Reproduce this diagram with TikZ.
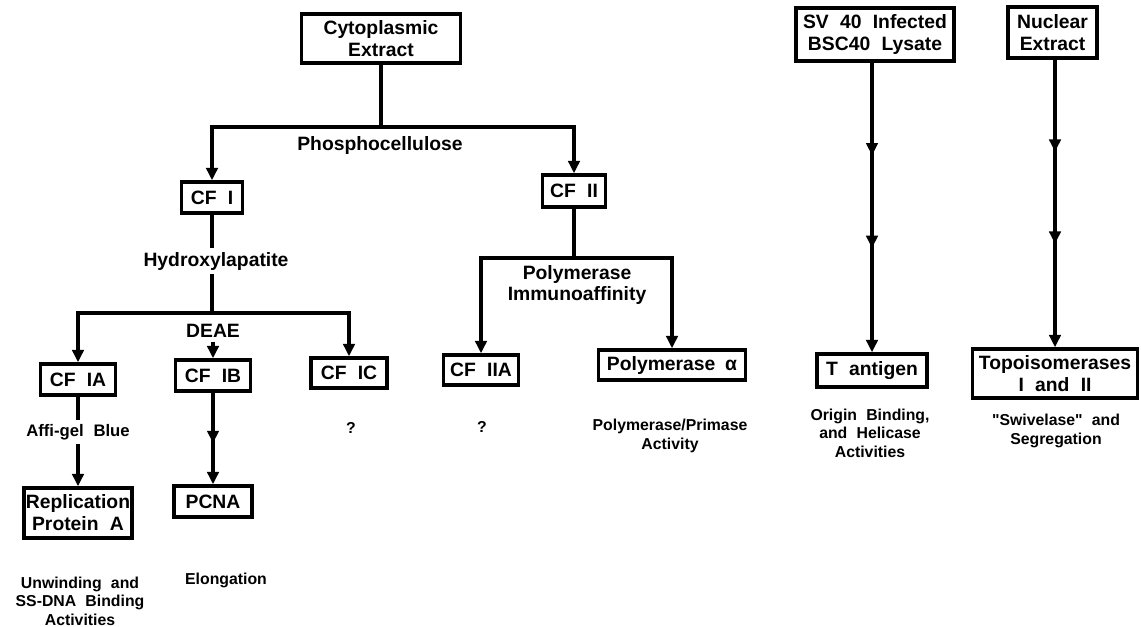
\documentclass[tikz,border=0pt]{standalone}
\usepackage{fontspec}
\setmainfont{Liberation Sans}[WordSpace=2.1]
\usepackage{tikz}
\usetikzlibrary{arrows.meta, positioning, decorations.markings}

\begin{document}
\begin{tikzpicture}[
  x=0.02cm, y=-0.02cm,
  stage/.style={rectangle, draw, line width=2pt, inner sep=1pt, align=center,
                font=\bfseries\fontsize{11}{12.5}\selectfont},
  method/.style={align=center, inner sep=2pt, font=\bfseries\fontsize{11}{12}\selectfont},
  result/.style={align=center, inner sep=2pt, font=\bfseries\fontsize{9}{10.5}\selectfont},
  flow/.style={line width=2pt, -{Triangle[length=7pt,width=6.5pt]}},
  link/.style={line width=2pt},
  midarrows/.style 2 args={postaction={decorate}, decoration={markings,
      mark=at position #1 with {\arrow{Triangle[length=7pt,width=6.5pt]}},
      mark=at position #2 with {\arrow{Triangle[length=7pt,width=6.5pt]}}}},
  midarrow/.style={postaction={decorate}, decoration={markings,
      mark=at position #1 with {\arrow{Triangle[length=7pt,width=6.5pt]}}}}
]
  \useasboundingbox (0,0) rectangle (1141,626);

  % cytoplasmic branch
  \node[stage, minimum width=3.18cm, minimum height=0.98cm] (cyto) at (381,38.5) {Cytoplasmic\\Extract};
  \coordinate (phj) at (381,127);
  \node[method] (phos) at (380,145) {Phosphocellulose};

  \node[stage, minimum width=1.22cm, minimum height=0.62cm] (cfi)  at (212,197.5) {CF I};
  \node[stage, minimum width=1.26cm, minimum height=0.64cm] (cfii) at (574,191) {CF II};

  \draw[link] (cyto) -- (phj);
  \draw[flow] (phj) -| (cfi);
  \draw[flow] (phj) -| (cfii);

  % CF I
  \node[method] (hydro) at (216,261) {Hydroxylapatite};
  \coordinate (hyj) at (212,313);
  \node[method] (deae) at (213,331) {DEAE};

  \node[stage, minimum width=1.5cm, minimum height=0.62cm]  (cfia) at (78,379.5)  {CF IA};
  \node[stage, minimum width=1.5cm, minimum height=0.62cm]  (cfib) at (213,375.5) {CF IB};
  \node[stage, minimum width=1.52cm, minimum height=0.6cm]  (cfic) at (349,373)   {CF IC};

  \draw[link] (cfi) -- (cfi |- hydro.north);
  \draw[link] (cfi |- hydro.south) -- (hyj);
  \draw[flow] (hyj) -| (cfia);
  \draw[flow] (hyj) -| (cfic);
  \draw[flow] (deae) -- (cfib);

  \node[method, font=\bfseries\fontsize{9.5}{11}\selectfont] (affi) at (78,432) {Affi-gel Blue};
  \node[stage, minimum width=2.14cm, minimum height=1.0cm] (rpa) at (78,513) {Replication\\Protein A};
  \draw[link] (cfia) -- (affi);
  \draw[flow] (affi) -- (rpa);

  \node[stage, minimum width=1.56cm, minimum height=0.62cm] (pcna) at (213,501.5) {PCNA};
  \draw[flow, midarrow=0.55] (cfib) -- (pcna);

  \node[result] (q1) at (351,428) {?};
  \node[result] (rpaact) at (80,601) {Unwinding and\\SS-DNA Binding\\Activities};
  \node[result] (elong) at (226,580) {Elongation};

  % CF II
  \coordinate (pij) at (574,258);
  \node[method] (poly) at (577,285) {Polymerase\\Immunoaffinity};
  \node[stage, minimum width=1.5cm, minimum height=0.6cm]  (cfiia) at (481,370) {CF IIA};
  \node[stage, minimum width=2.94cm, minimum height=0.6cm] (pola)  at (672,365) {Polymerase\enspace α};
  \draw[link] (cfii) -- (pij);
  \draw[flow] (pij) -| (cfiia);
  \draw[flow] (pij) -| (pola);

  \node[result] (q2) at (482,427) {?};
  \node[result] (polact) at (670,436) {Polymerase/Primase\\Activity};

  % SV40 lysate
  \node[stage, minimum width=3.16cm, minimum height=1.06cm] (sv) at (875,34.5) {SV 40 Infected\\BSC40 Lysate};
  \node[stage, minimum width=2.2cm, minimum height=0.66cm] (tag) at (872,370.5) {T antigen};
  \draw[flow, midarrows={0.32}{0.64}] (sv.south -| tag) -- (tag);
  \node[result] (tact) at (870,433) {Origin Binding,\\and Helicase\\Activities};

  % nuclear extract
  \node[stage, minimum width=1.78cm, minimum height=1.02cm] (nuc) at (1052.5,32.5) {Nuclear\\Extract};
  \node[stage, minimum width=3.3cm, minimum height=0.98cm] (topo) at (1055,373.5) {Topoisomerases\\I and II};
  \draw[flow, midarrows={0.32}{0.64}] (nuc.south -| topo) -- (topo);
  \node[result] (topact) at (1056,431) {\textquotedbl Swivelase\textquotedbl\ and\\Segregation};
\end{tikzpicture}
\end{document}
